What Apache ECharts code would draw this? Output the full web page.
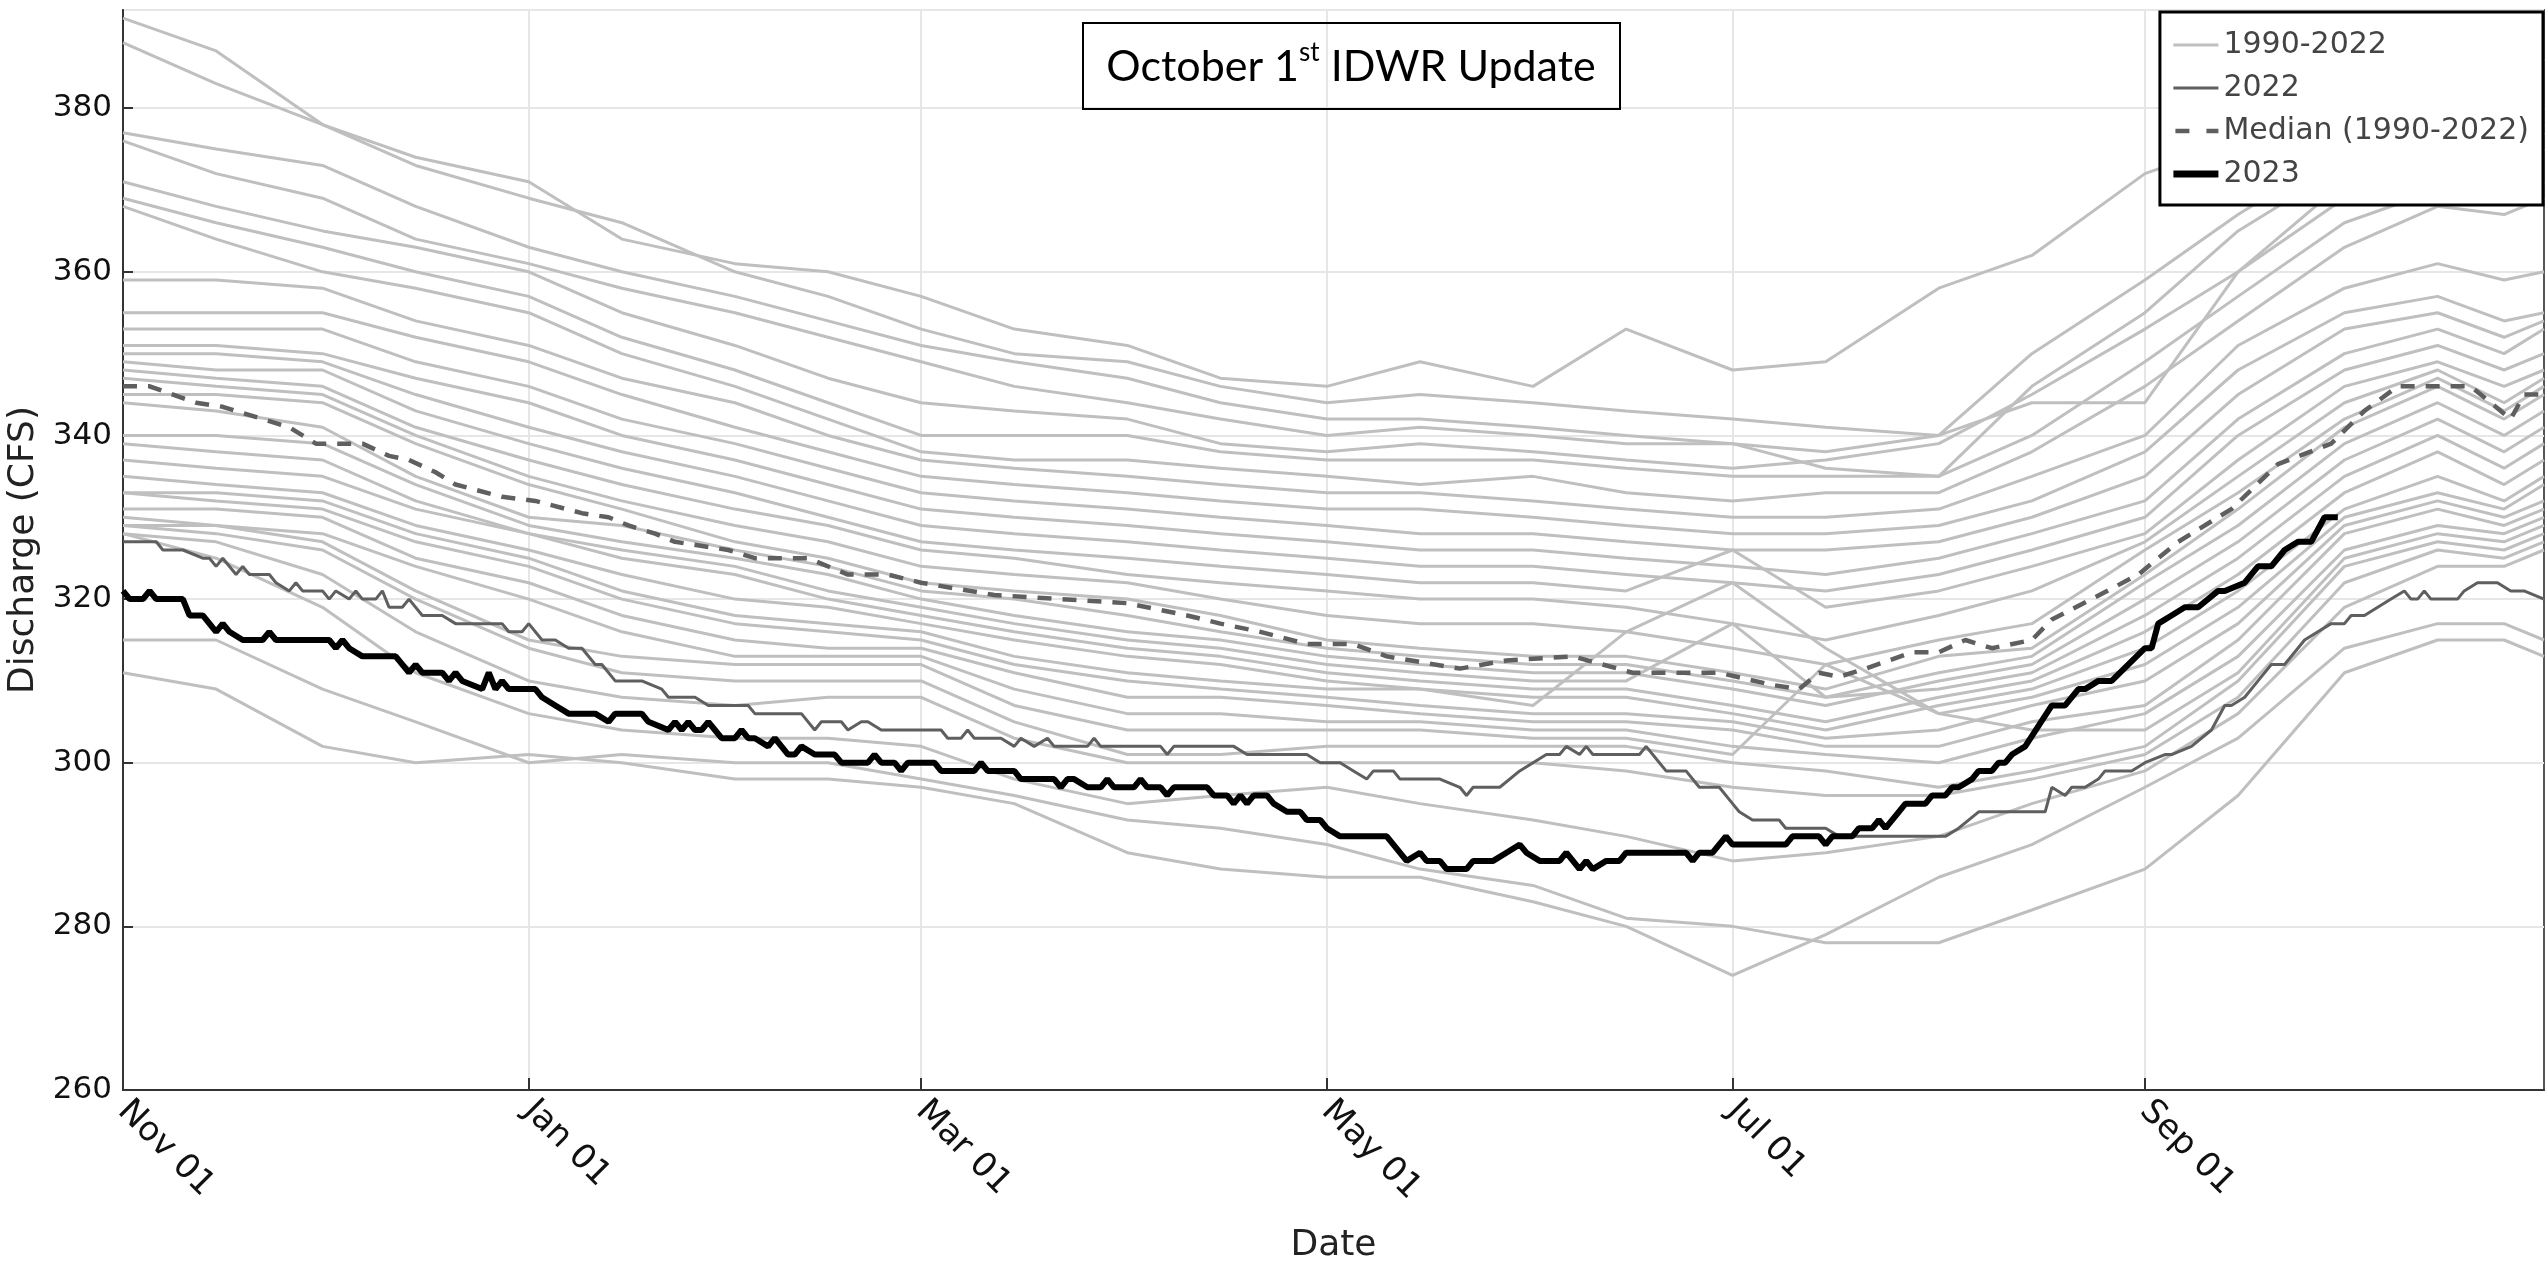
<!DOCTYPE html>
<html><head><meta charset="utf-8">
<script src="https://cdn.jsdelivr.net/npm/echarts@6/dist/echarts.min.js"></script>
<style>html,body{margin:0;padding:0;background:#fff}#c{width:2547px;height:1268px}</style>
</head><body><div id="c"></div>
<script>
// ---------------- DATA ----------------
// 1990-2022 traces, sampled twice a month
const grayDates = ['2022-11-01','2022-11-15','2022-12-01','2022-12-15','2023-01-01','2023-01-15','2023-02-01','2023-02-15','2023-03-01','2023-03-15','2023-04-01','2023-04-15','2023-05-01','2023-05-15','2023-06-01','2023-06-15','2023-07-01','2023-07-15','2023-08-01','2023-08-15','2023-09-01','2023-09-15','2023-10-01','2023-10-15','2023-10-25','2023-10-31'];
const gray01 = [391,387,378,374,371,364,361,360,357,353,351,347,346,349,346,353,348,349,358,362,372,376,381,384,383,386];
const gray02 = [388,383,378,373,369,366,360,357,353,350,349,346,344,345,344,343,342,341,340,350,359,367,375,379,378,380];
const gray03 = [377,375,373,368,363,360,357,354,351,349,347,344,342,342,341,340,339,336,335,346,355,365,373,377,376,378];
const gray04 = [376,372,369,364,361,358,355,352,349,346,344,342,340,341,340,339,339,338,340,344,344,360,371,375,374,377];
const gray05 = [371,368,365,363,360,355,351,347,344,343,342,339,338,339,338,337,336,337,339,345,353,360,369,373,372,375];
const gray06 = [369,366,363,360,357,352,348,344,340,340,340,338,337,337,337,336,335,335,335,340,349,357,366,370,369,371];
const gray07 = [368,364,360,358,355,350,346,342,338,337,337,336,335,334,335,333,332,333,333,338,346,354,363,368,367,369];
const gray08 = [359,359,358,354,351,347,344,340,337,336,335,334,333,333,332,331,330,330,331,335,340,351,358,361,359,360];
const gray09 = [355,355,355,352,349,345,341,338,335,334,333,332,331,331,330,329,328,328,329,332,338,348,355,357,354,355];
const gray10 = [353,353,353,349,346,342,339,336,333,332,331,330,329,328,328,327,326,326,327,330,335,345,353,355,352,354];
const gray11 = [351,351,350,347,344,340,337,334,331,330,329,328,327,326,326,325,324,323,325,328,332,342,350,353,350,353];
const gray12 = [350,350,349,345,341,338,335,332,329,328,327,326,325,324,324,323,322,321,323,326,330,340,348,351,348,350];
const gray13 = [349,348,348,343,339,336,333,330,327,326,325,324,323,322,322,321,326,319,321,324,328,337,346,349,346,348];
const gray14 = [348,347,346,341,337,334,331,329,326,325,323,322,321,320,320,319,317,315,318,321,327,335,344,348,344,347];
const gray15 = [347,346,345,340,335,332,329,327,324,323,322,320,318,317,317,316,314,312,315,317,326,333,342,347,343,346];
const gray16 = [345,345,344,339,334,331,327,325,322,321,320,318,315,314,313,313,311,309,313,314,323,331,341,346,342,345];
const gray17 = [344,343,341,335,330,329,326,324,321,320,318,316,314,313,312,312,310,308,311,313,322,329,339,344,340,343];
const gray18 = [340,340,339,334,329,327,325,323,320,318,316,315,313,312,311,311,309,307,310,312,320,327,337,342,338,341];
const gray19 = [339,338,337,332,328,326,324,321,319,317,315,314,312,311,310,310,317,308,309,311,318,325,335,340,336,339];
const gray20 = [337,336,335,331,328,325,323,320,318,316,314,313,311,310,309,309,307,305,308,310,316,323,333,338,334,337];
const gray21 = [335,334,333,329,326,323,320,319,317,315,313,312,310,309,308,308,306,304,307,309,314,321,331,335,332,335];
const gray22 = [333,333,332,328,325,321,318,317,316,313,311,310,309,309,307,316,322,314,306,308,312,319,330,333,331,334];
const gray23 = [333,332,331,327,324,320,317,316,315,312,310,309,308,307,306,306,305,303,304,307,310,317,329,332,330,332];
const gray24 = [331,331,330,325,322,318,315,314,314,311,308,308,307,306,305,305,304,302,302,305,307,315,328,331,329,331];
const gray25 = [330,329,328,324,320,316,313,313,313,309,306,306,305,305,304,304,302,301,300,303,306,313,326,329,328,330];
const gray26 = [329,329,327,321,315,313,312,312,312,307,304,304,304,304,303,303,301,312,306,304,304,311,325,328,327,329];
const gray27 = [329,328,326,320,314,311,310,310,310,305,301,301,302,302,302,302,300,299,297,299,302,310,324,327,326,328];
const gray28 = [328,327,323,316,310,308,307,308,308,303,300,300,300,300,300,299,297,296,296,298,301,308,322,326,325,327];
const gray29 = [328,325,319,311,306,304,303,303,302,298,295,296,297,295,293,291,288,289,291,295,299,306,319,324,324,326];
const gray30 = [315,315,309,305,300,301,300,300,298,296,293,292,290,287,285,281,280,278,278,282,287,296,311,315,315,313];
const gray31 = [311,309,302,300,301,300,298,298,297,295,289,287,286,286,283,280,274,279,286,290,297,303,314,317,317,315];

// 2022: day offsets from Nov 01 and discharge values
const days2022 = [0,5,6,9,12,13,14,15,17,18,19,22,23,25,26,27,30,31,32,34,35,36,38,39,40,42,43,45,48,50,57,58,60,61,63,65,67,69,71,72,74,78,81,82,86,88,94,95,102,104,105,108,109,111,112,114,123,124,126,127,128,132,134,135,137,139,140,145,146,147,156,157,158,167,169,178,180,183,185,187,188,191,192,198,201,202,203,207,210,212,214,216,217,219,220,221,228,229,231,232,235,237,240,242,243,245,249,250,256,258,274,276,279,289,290,292,293,295,297,298,302,304,307,308,311,314,316,317,319,321,323,325,327,328,330,332,334,335,337,339,341,343,344,345,346,347,351,352,354,357,359,361,364];
const values2022 = [327,327,326,326,325,325,324,325,323,324,323,323,322,321,322,321,321,320,321,320,321,320,320,321,319,319,320,318,318,317,317,316,316,317,315,315,314,314,312,312,310,310,309,308,308,307,307,306,306,304,305,305,304,305,305,304,304,303,303,304,303,303,302,303,302,303,302,302,303,302,302,301,302,302,301,301,300,300,299,298,299,299,298,298,297,296,297,297,299,300,301,301,302,301,302,301,301,302,300,299,299,297,297,295,294,293,293,292,292,291,291,292,294,294,297,296,297,297,298,299,299,300,301,301,302,304,307,307,308,310,312,312,314,315,316,317,317,318,318,319,320,321,320,320,321,320,320,321,322,322,321,321,320];

// Median (1990-2022)
const datesMedian = ['2022-11-01','2022-11-05','2022-11-12','2022-11-16','2022-11-22','2022-11-26','2022-11-30','2022-12-07','2022-12-11','2022-12-14','2022-12-18','2022-12-21','2022-12-28','2023-01-02','2023-01-09','2023-01-13','2023-01-16','2023-01-20','2023-01-23','2023-01-31','2023-02-04','2023-02-12','2023-02-18','2023-02-24','2023-03-01','2023-03-12','2023-04-01','2023-04-10','2023-04-15','2023-04-21','2023-04-28','2023-05-05','2023-05-10','2023-05-21','2023-05-28','2023-06-07','2023-06-16','2023-06-29','2023-07-07','2023-07-11','2023-07-14','2023-07-17','2023-07-21','2023-07-28','2023-08-01','2023-08-05','2023-08-09','2023-08-15','2023-08-18','2023-08-24','2023-08-31','2023-09-06','2023-09-14','2023-09-21','2023-09-29','2023-10-04','2023-10-09','2023-10-20','2023-10-26','2023-10-28','2023-10-31'];
const valuesMedian = [346,346,344,343.5,342,341,339,339,337.5,337,335.5,334,332.5,332,330.5,330,329,328,327,326,325,325,323,323,322,320.5,319.5,318,317,316,314.5,314.5,313,311.5,312.5,313,311,311,309.5,309,311,310.5,311.5,313.5,313.5,315,314,315,317.5,320,323,327,331,336.5,339,343,346,346,342,345,345];

// 2023: day offsets from Nov 01 and discharge values (ends Sep 30)
const days2023 = [0,1,3,4,5,9,10,12,14,15,16,18,21,22,23,31,32,33,34,36,41,43,44,45,48,49,50,51,54,55,56,57,58,62,63,65,67,71,73,74,78,79,82,83,84,85,86,87,88,89,90,92,93,94,95,97,98,99,100,101,102,104,107,108,112,113,114,116,117,118,122,123,128,129,130,134,135,140,141,142,143,145,147,148,149,152,153,154,156,157,158,163,164,166,167,168,169,170,172,173,175,177,178,180,181,183,190,193,195,196,198,199,202,203,206,208,210,211,213,216,217,219,220,221,223,225,226,235,236,237,239,241,242,250,251,255,256,257,260,261,263,264,265,267,268,271,272,274,275,276,278,279,281,282,283,284,286,290,292,294,295,297,299,304,305,306,308,310,312,315,316,319,321,323,325,327,329,331,333];
const values2023 = [321,320,320,321,320,320,318,318,316,317,316,315,315,316,315,315,314,315,314,313,313,311,312,311,311,310,311,310,309,311,309,310,309,309,308,307,306,306,305,306,306,305,304,305,304,305,304,304,305,304,303,303,304,303,303,302,303,302,301,301,302,301,301,300,300,301,300,300,299,300,300,299,299,300,299,299,298,298,297,298,298,297,297,298,297,297,298,297,297,296,297,297,296,296,295,296,295,296,296,295,294,294,293,293,292,291,291,288,289,288,288,287,287,288,288,289,290,289,288,288,289,287,288,287,288,288,289,289,288,289,289,291,290,290,291,291,290,291,291,292,292,293,292,294,295,295,296,296,297,297,298,299,299,300,300,301,302,307,307,309,309,310,310,314,314,317,318,319,319,321,321,322,324,324,326,327,327,330,330];

const yTicks = [260, 280, 300, 320, 340, 360, 380];
const tickMonths = ['11', '01', '03', '05', '07', '09'];
const monthNames = {'01':'Jan','03':'Mar','05':'May','07':'Jul','09':'Sep','11':'Nov'};

// ---------------- BUILD ----------------
const categories = [];
(function () {
  let t = Date.UTC(2022, 10, 1);
  const end = Date.UTC(2023, 9, 31);
  while (t <= end) { categories.push(new Date(t).toISOString().slice(0, 10)); t += 86400000; }
})();
function isTick(v) { return v.slice(8) === '01' && tickMonths.indexOf(v.slice(5, 7)) >= 0; }
const intervalFn = function (idx, v) { return isTick(v); };
const pair = (dates, vals) => dates.map((d, i) => [d, vals[i]]);
const pairDays = (days, vals) => days.map((d, i) => [categories[d], vals[i]]);

const grays = [gray01,gray02,gray03,gray04,gray05,gray06,gray07,gray08,gray09,gray10,gray11,gray12,gray13,gray14,gray15,gray16,gray17,gray18,gray19,gray20,gray21,gray22,gray23,gray24,gray25,gray26,gray27,gray28,gray29,gray30,gray31];
const FONT = 'DejaVu Sans';
const GRAY = '#bfbfbf';
const DARK = '#5f5f5f';

const series = grays.map(arr => ({
  name: '1990-2022', type: 'line', data: pair(grayDates, arr), symbol: 'none',
  lineStyle: { color: GRAY, width: 3 }, itemStyle: { color: GRAY }, z: 2, silent: true
}));
series.push({ name: '2022', type: 'line', data: pairDays(days2022, values2022), symbol: 'none',
  lineStyle: { color: DARK, width: 3 }, itemStyle: { color: DARK }, z: 3, silent: true });
series.push({ name: 'Median (1990-2022)', type: 'line', data: pair(datesMedian, valuesMedian), symbol: 'none',
  lineStyle: { color: DARK, width: 4.5, type: [14, 11] }, itemStyle: { color: DARK }, z: 4, silent: true });
series.push({ name: '2023', type: 'line', data: pairDays(days2023, values2023), symbol: 'none',
  lineStyle: { color: '#000000', width: 6 }, itemStyle: { color: '#000000' }, z: 5, silent: true });

const chart = echarts.init(document.getElementById('c'), null, { renderer: 'canvas' });
chart.setOption({
  animation: false,
  backgroundColor: '#ffffff',
  grid: { left: 123, right: 3, top: 10, bottom: 178, show: true, borderColor: '#555', borderWidth: 2, containLabel: false, outerBoundsMode: 'none' },
  legend: {
    data: [
      { name: '1990-2022', lineStyle: { color: GRAY, width: 3, type: 'solid' } },
      { name: '2022', lineStyle: { color: DARK, width: 3, type: 'solid' } },
      { name: 'Median (1990-2022)', lineStyle: { color: DARK, width: 4.5, type: [14, 17], dashOffset: -2 } },
      { name: '2023', lineStyle: { color: '#000', width: 7, type: 'solid' } }
    ],
    orient: 'vertical', right: 4, top: 12,
    backgroundColor: '#ffffff', borderColor: '#000', borderWidth: 3,
    padding: [18, 14, 16, 10], itemWidth: 45, itemHeight: 14, itemGap: 13,
    itemStyle: { opacity: 0 },
    textStyle: { fontFamily: FONT, fontSize: 30, color: '#444', lineHeight: 30 },
    selectedMode: false, z: 20
  },
  xAxis: {
    type: 'category', data: categories, boundaryGap: false,
    axisLine: { lineStyle: { color: '#333', width: 2 } },
    axisTick: { show: true, inside: true, length: 12, interval: intervalFn, lineStyle: { color: '#333', width: 2 } },
    axisLabel: { interval: intervalFn, rotate: -45, margin: 16, fontFamily: FONT, fontSize: 34, color: '#111',
      formatter: v => monthNames[v.slice(5, 7)] + ' ' + v.slice(8) },
    splitLine: { show: true, interval: intervalFn, lineStyle: { color: '#e6e6e6', width: 2 } },
    name: 'Date', nameLocation: 'middle', nameGap: 138,
    nameTextStyle: { fontFamily: FONT, fontSize: 36, color: '#222' }
  },
  yAxis: {
    type: 'value', min: yTicks[0], max: 392, interval: 20,
    axisLine: { show: true, lineStyle: { color: '#333', width: 2 } },
    axisTick: { show: true, inside: true, length: 10, lineStyle: { color: '#333', width: 2 } },
    axisLabel: { showMaxLabel: false, margin: 11, fontFamily: FONT, fontSize: 31, color: '#111',
      formatter: v => (yTicks.indexOf(v) >= 0 ? String(v) : '') },
    splitLine: { show: true, lineStyle: { color: '#e6e6e6', width: 2 } },
    name: 'Discharge (CFS)', nameLocation: 'middle', nameGap: 80,
    nameTextStyle: { fontFamily: FONT, fontSize: 36, color: '#222' }
  },
  graphic: [
    { type: 'rect', shape: { x: 1083, y: 23, width: 537, height: 86 },
      style: { fill: 'rgba(0,0,0,0)', stroke: '#000', lineWidth: 2 }, z: 30, silent: true },
    { type: 'text', x: 1351, y: 67, z: 31, silent: true,
      style: {
        text: '{m|October 1}{s|st}{m| IDWR Update}',
        align: 'center', verticalAlign: 'middle', textAlign: 'center', textVerticalAlign: 'middle',
        rich: {
          m: { fontFamily: 'Lato', fontSize: 43, fill: '#000', color: '#000', lineHeight: 54 },
          s: { fontFamily: 'Lato', fontSize: 26, fill: '#000', color: '#000', lineHeight: 28, verticalAlign: 'top' }
        }
      } }
  ],
  series: series
});
</script>
</body></html>
